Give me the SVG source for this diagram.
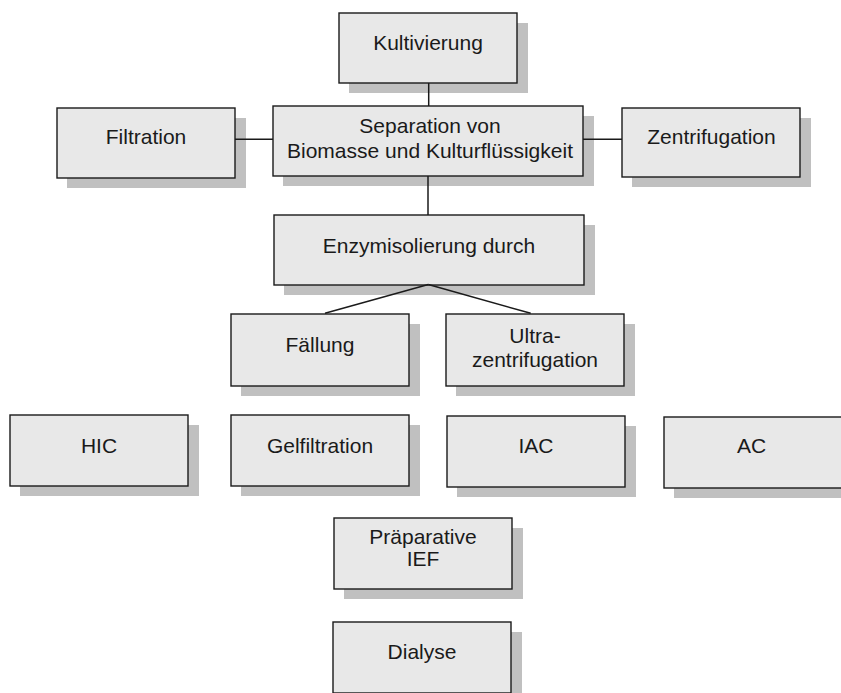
<svg xmlns="http://www.w3.org/2000/svg" width="841" height="693" viewBox="0 0 841 693">
<style>
.sh{fill:#c0c0c0;stroke:none}
.bx{fill:#e8e8e8;stroke:#1a1a1a;stroke-width:1.4}
text{font-family:"Liberation Sans",Arial,sans-serif;font-size:21px;fill:#1a1a1a;text-anchor:middle}
.cn line{stroke:#1a1a1a;stroke-width:1.5}
</style>
<rect width="841" height="693" fill="#ffffff"/>
<g id="kultivierung"><rect class="sh" x="349" y="23" width="179" height="70"/><rect class="bx" x="339" y="13" width="178" height="70"/><text x="428" y="50">Kultivierung</text></g>
<g id="filtration"><rect class="sh" x="67" y="118" width="179" height="70"/><rect class="bx" x="57" y="108" width="178" height="70"/><text x="146" y="144.3">Filtration</text></g>
<g id="separation"><rect class="sh" x="283" y="116" width="311" height="70"/><rect class="bx" x="273" y="106" width="310" height="70"/><text x="430" y="133.3">Separation von</text><text x="430" y="158.3">Biomasse und Kulturflüssigkeit</text></g>
<g id="zentrifugation"><rect class="sh" x="632" y="118" width="179" height="69"/><rect class="bx" x="622" y="108" width="178" height="69"/><text x="711.5" y="144.3">Zentrifugation</text></g>
<g id="enzymisolierung"><rect class="sh" x="284" y="225" width="311" height="70"/><rect class="bx" x="274" y="215" width="310" height="70"/><text x="429" y="253.3">Enzymisolierung durch</text></g>
<g id="faellung"><rect class="sh" x="241" y="324" width="179" height="72"/><rect class="bx" x="231" y="314" width="178" height="72"/><text x="320" y="351.7">Fällung</text></g>
<g id="ultrazentrifugation"><rect class="sh" x="456" y="324" width="179" height="72"/><rect class="bx" x="446" y="314" width="178" height="72"/><text x="535" y="343.3">Ultra-</text><text x="535" y="367.3">zentrifugation</text></g>
<g id="hic"><rect class="sh" x="20" y="425" width="179" height="71"/><rect class="bx" x="10" y="415" width="178" height="71"/><text x="99" y="452.7">HIC</text></g>
<g id="gelfiltration"><rect class="sh" x="241" y="425" width="179" height="71"/><rect class="bx" x="231" y="415" width="178" height="71"/><text x="320" y="452.7">Gelfiltration</text></g>
<g id="iac"><rect class="sh" x="457" y="426" width="179" height="71"/><rect class="bx" x="447" y="416" width="178" height="71"/><text x="536" y="452.7">IAC</text></g>
<g id="ac"><rect class="sh" x="674" y="427" width="190" height="71"/><rect class="bx" x="664" y="417" width="190" height="71"/><text x="751.7" y="453.3">AC</text></g>
<g id="praeparative-ief"><rect class="sh" x="344" y="528" width="179" height="71"/><rect class="bx" x="334" y="518" width="178" height="71"/><text x="423" y="544">Präparative</text><text x="423" y="566">IEF</text></g>
<g id="dialyse"><rect class="sh" x="343" y="632" width="179" height="71"/><rect class="bx" x="333" y="622" width="178" height="71"/><text x="422" y="659.3">Dialyse</text></g>
<g id="connectors" class="cn">
<line x1="428.7" y1="83" x2="428.7" y2="106"/>
<line x1="235" y1="139.3" x2="273" y2="139.3"/>
<line x1="583" y1="139.3" x2="622" y2="139.3"/>
<line x1="428" y1="176" x2="428" y2="215"/>
<line x1="428.3" y1="284.5" x2="325" y2="313.3"/>
<line x1="428.3" y1="284.5" x2="530.7" y2="313.3"/>
</g>
</svg>
